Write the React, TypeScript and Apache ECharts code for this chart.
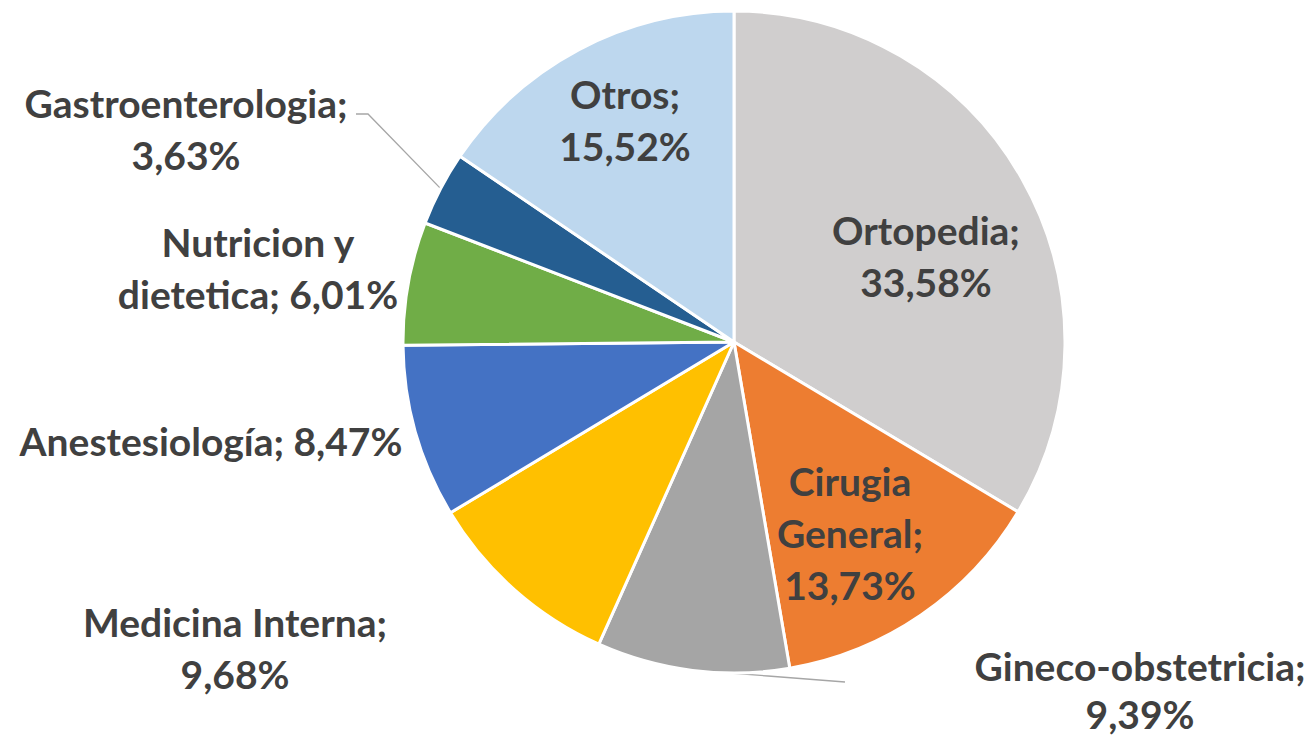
import React, { useEffect, useRef } from "react";
import * as echarts from "echarts";

const categories = [
  "Ortopedia",
  "Cirugia General",
  "Gineco-obstetricia",
  "Medicina Interna",
  "Anestesiología",
  "Nutricion y dietetica",
  "Gastroenterologia",
  "Otros",
];
const values = [33.58, 13.73, 9.39, 9.68, 8.47, 6.01, 3.63, 15.52];
const colors = ["#D0CECE", "#ED7D31", "#A5A5A5", "#FFC000", "#4472C4", "#70AD47", "#255E91", "#BDD7EE"];
const labelTemplates = [
  "Ortopedia;\n{v}",
  "Cirugia\nGeneral;\n{v}",
  "Gineco-obstetricia;\n{v}",
  "Medicina Interna;\n{v}",
  "Anestesiología; {v}",
  "Nutricion y\ndietetica; {v}",
  "Gastroenterologia;\n{v}",
  "Otros;\n{v}",
];
// label block centres (layout only)
const labelPos: [number, number][] = [
  [926, 256],
  [850, 533],
  [1140, 690],
  [235, 648],
  [211, 441],
  [258, 268],
  [186, 129],
  [625, 120],
];
const labelLineHeights = [52, 52, 48, 52, 52, 52, 52, 52];
const leaderEnds: Record<number, [number, number][]> = {
  2: [[768, 676], [845, 682]],
  6: [[368, 114], [356, 114]],
};

const fmt = (v: number) => v.toFixed(2).replace(".", ",") + "%";

export default function App() {
  const ref = useRef<HTMLDivElement>(null);
  useEffect(() => {
    document.body.style.margin = "0";
    const chart = echarts.init(ref.current!, undefined, { renderer: "svg" });
    chart.setOption({
      animation: false,
      backgroundColor: "#ffffff",
      series: [
        {
          type: "pie",
          center: [734, 342],
          radius: 331,
          startAngle: 90,
          clockwise: true,
          avoidLabelOverlap: false,
          itemStyle: { borderColor: "#ffffff", borderWidth: 3 },
          label: {
            show: true,
            position: "outside",
            color: "#404040",
            fontFamily: "Lato",
            fontWeight: "bold",
            fontSize: 39,
            lineHeight: 52,
            align: "center",
            formatter: (p: any) => labelTemplates[p.dataIndex].replace("{v}", fmt(p.value)),
          },
          labelLine: { show: false, lineStyle: { color: "#A6A6A6", width: 1.3 }, length: 10, length2: 10 },
          labelLayout: (p: any) => {
            const i = p.dataIndex;
            const out: any = {
              x: labelPos[i][0],
              y: labelPos[i][1],
              align: "center",
              verticalAlign: "middle",
              hideOverlap: false,
            };
            if (leaderEnds[i] && p.labelLinePoints) {
              out.labelLinePoints = [p.labelLinePoints[0], ...leaderEnds[i]];
            }
            return out;
          },
          data: categories.map((name, i) => ({
            name,
            value: values[i],
            itemStyle: { color: colors[i] },
            label: { lineHeight: labelLineHeights[i] },
            labelLine: { show: !!leaderEnds[i] },
          })),
        },
      ],
    });
    return () => chart.dispose();
  }, []);
  return <div ref={ref} style={{ width: 1314, height: 739 }} />;
}
